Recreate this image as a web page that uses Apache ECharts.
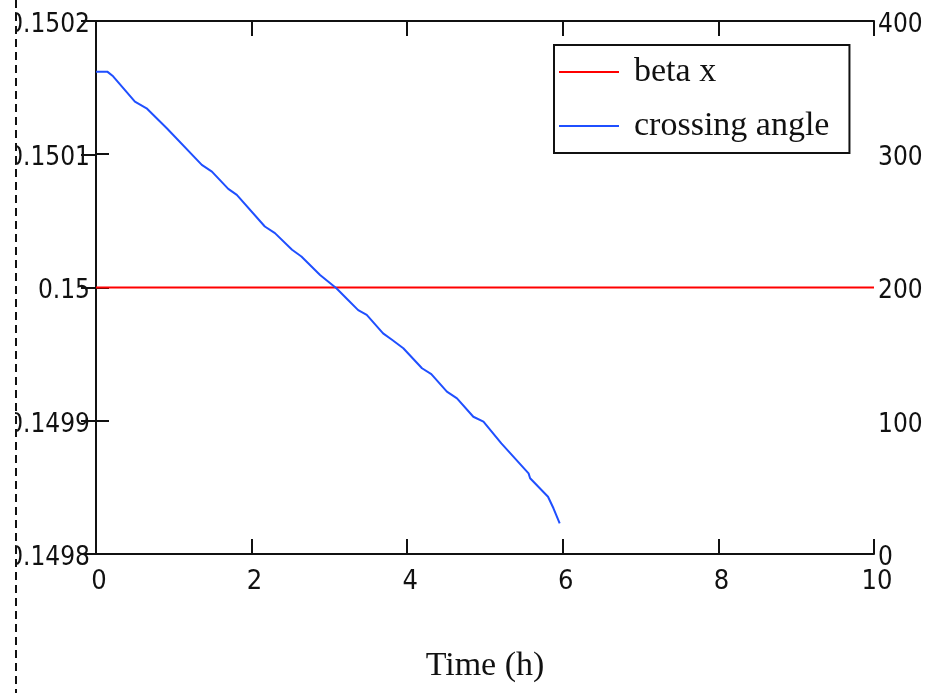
<!DOCTYPE html>
<html>
<head>
<meta charset="utf-8">
<script src="https://cdn.jsdelivr.net/npm/echarts@6/dist/echarts.min.js"></script>
<style>html,body{margin:0;padding:0;background:#fff;}#chart{width:927px;height:693px;}</style>
</head>
<body>
<div id="chart"></div>
<script>
// ---- data ----
var xTicks = [0, 2, 4, 6, 8, 10];
var leftTicks = [0.1498, 0.1499, 0.15, 0.1501, 0.1502];
var rightTicks = [0, 100, 200, 300, 400];
var seriesNames = ['beta x', 'crossing angle'];

var betaTime = [0, 10];
var betaValues = [0.15, 0.15];

var angleTime = [0, 0.145, 0.22, 0.5, 0.65, 0.91, 1.36, 1.49, 1.70, 1.81, 2.17, 2.30, 2.52, 2.64, 2.88, 3.09, 3.24, 3.37, 3.48, 3.69, 3.80, 3.95, 4.19, 4.31, 4.51, 4.64, 4.85, 4.98, 5.21, 5.56, 5.58, 5.81, 5.88, 5.96];
var angleValues = [362, 362, 358.5, 339.5, 334.5, 319.5, 292, 287, 274, 269.5, 245.8, 240.8, 228.3, 223.3, 209.4, 199.4, 190.6, 183, 179.4, 165.6, 161, 154.4, 139.4, 135, 121.8, 116.8, 103, 99.3, 83, 60.5, 56.8, 43, 34.3, 23];

function zip(a, b) { return a.map(function (v, i) { return [v, b[i]]; }); }

var tickFont = "'DejaVu Sans Condensed', 'Liberation Sans Narrow', 'Liberation Sans', sans-serif";
var serifFont = "'Liberation Serif', 'DejaVu Serif', serif";
var axisLineStyle = { color: '#111', width: 2 };
var yRich = { t: { fontFamily: tickFont, fontSize: 26, color: '#111', padding: [8, 0, 0, 0] } };

var chart = echarts.init(document.getElementById('chart'), null, { renderer: 'canvas' });
chart.setOption({
  animation: false,
  backgroundColor: '#fff',
  grid: { left: 96, right: 53, top: 21, bottom: 139, containLabel: false, outerBoundsMode: 'none' },
  legend: {
    orient: 'vertical',
    left: 554, top: 45,
    data: [
      { name: seriesNames[0], icon: 'rect', itemStyle: { color: '#ff0000' } },
      { name: seriesNames[1], icon: 'rect', itemStyle: { color: '#1f4fff' } }
    ],
    backgroundColor: '#fff',
    borderColor: '#111', borderWidth: 2,
    padding: [10, 20, 10, 5],
    itemWidth: 60, itemHeight: 2, itemGap: 20,
    textStyle: { fontFamily: serifFont, fontSize: 34, color: '#111', padding: [0, 0, 0, 10] }
  },
  xAxis: [{
    type: 'value', position: 'bottom', min: xTicks[0], max: xTicks[xTicks.length - 1], interval: 2,
    name: 'Time (h)', nameLocation: 'middle', nameGap: 95,
    nameTextStyle: { fontFamily: serifFont, fontSize: 34, color: '#111' },
    axisLine: { show: true, lineStyle: axisLineStyle },
    axisTick: { show: true, inside: true, length: 15, lineStyle: axisLineStyle },
    axisLabel: { fontFamily: tickFont, fontSize: 27, color: '#111', margin: 14, padding: [0, 0, 0, 6] },
    splitLine: { show: false }
  }, {
    type: 'value', position: 'top', min: xTicks[0], max: xTicks[xTicks.length - 1], interval: 2,
    axisLine: { show: true, lineStyle: axisLineStyle },
    axisTick: { show: true, inside: true, length: 15, lineStyle: axisLineStyle },
    axisLabel: { show: false },
    splitLine: { show: false }
  }],
  yAxis: [{
    type: 'value', position: 'left', min: leftTicks[0], max: leftTicks[leftTicks.length - 1], interval: 0.0001,
    axisLine: { show: true, lineStyle: axisLineStyle },
    axisTick: { show: true, inside: true, length: 13, lineStyle: axisLineStyle },
    axisLabel: { margin: 6, rich: yRich,
      formatter: function (v) { return '{t|' + String(+v.toFixed(4)) + '}'; } },
    splitLine: { show: false }
  }, {
    type: 'value', position: 'right', min: rightTicks[0], max: rightTicks[rightTicks.length - 1], interval: 100,
    axisLine: { show: true, lineStyle: axisLineStyle },
    axisTick: { show: true, inside: true, length: 15, lineStyle: axisLineStyle },
    axisLabel: { margin: 4, rich: yRich,
      formatter: function (v) { return '{t|' + v + '}'; } },
    splitLine: { show: false }
  }],
  series: [{
    name: seriesNames[0], type: 'line', xAxisIndex: 0, yAxisIndex: 0,
    data: zip(betaTime, betaValues), showSymbol: false, symbol: 'none',
    lineStyle: { color: '#ff0000', width: 2 }, itemStyle: { color: '#ff0000' }
  }, {
    name: seriesNames[1], type: 'line', xAxisIndex: 0, yAxisIndex: 1,
    data: zip(angleTime, angleValues), showSymbol: false, symbol: 'none',
    lineStyle: { color: '#1f4fff', width: 2 }, itemStyle: { color: '#1f4fff' }
  }],
  graphic: [
    { type: 'rect', left: 0, top: 0, z: 100, shape: { width: 15, height: 693 }, style: { fill: '#fff' } },
    { type: 'line', z: 101, shape: { x1: 16, y1: 0, x2: 16, y2: 693 },
      style: { stroke: '#111', lineWidth: 2, lineDash: [8, 5] } }
  ]
});
</script>
</body>
</html>
